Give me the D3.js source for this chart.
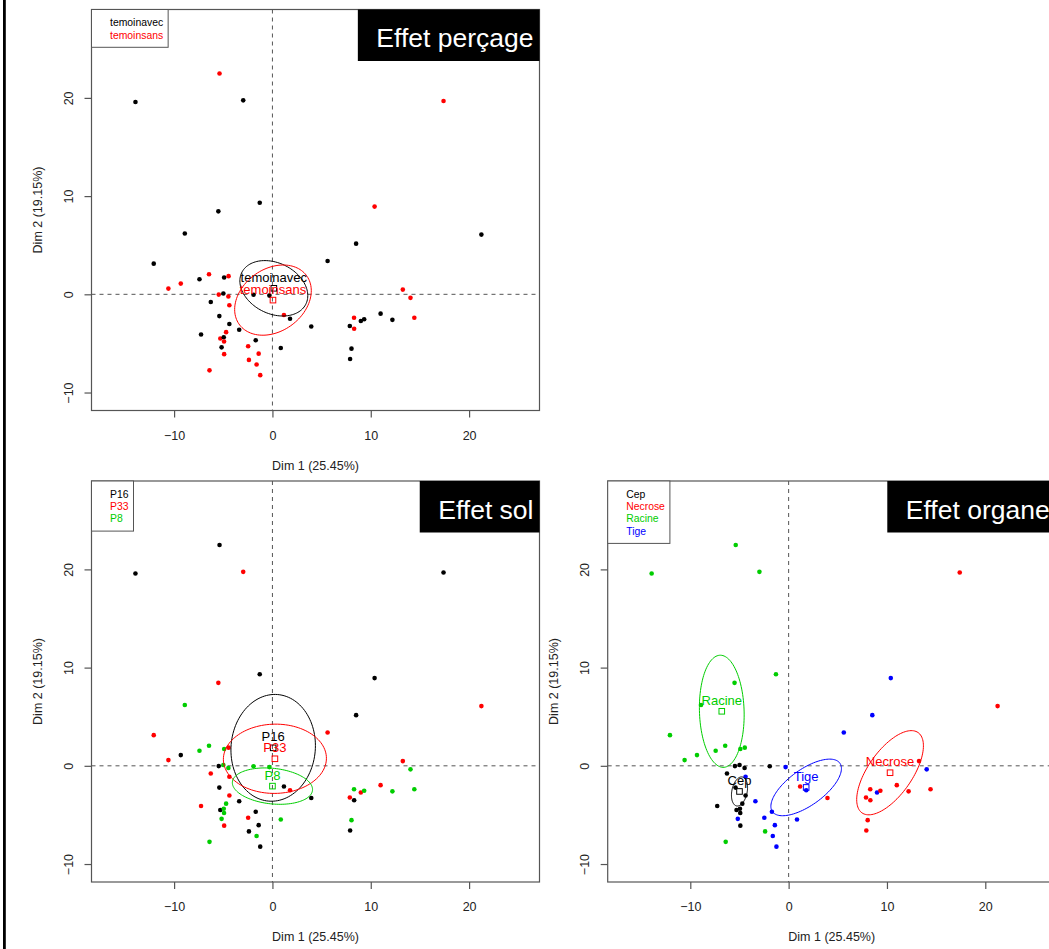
<!DOCTYPE html>
<html><head><meta charset="utf-8">
<script src="https://cdn.jsdelivr.net/npm/d3@7"></script>
<style>
body{margin:0;background:#fff}
svg{display:block}
text{font-family:"Liberation Sans",Arial,Helvetica,sans-serif}
</style>
</head><body>
<svg id="c" width="1049" height="949"></svg>
<script>
// ---------- DATA ----------
const dim1 = [
  -5.38,-13.93,-2.97,-1.29,-5.50,-8.91,-12.07,-7.42,-6.45,-4.91,-4.46,-9.32,-10.58,-2.39,-6.40,
  -5.46,-4.99,-4.48,-1.92,-6.27,-5.40,-4.38,-7.26,-5.30,-4.95,-4.92,-4.71,-4.91,
  10.39,8.51,5.61,-0.31,-4.38,14.04,1.79,8.99,-3.38,-1.70,-5.17,-2.47,0.85,-1.40,-1.61,-1.24,
  17.40,21.25,13.26,1.17,3.95,7.87,8.30,8.31,9.33,11.00,12.20,14.43,8.04,7.90
];
const dim2 = [
  22.49,19.58,19.75,9.32,8.45,6.19,3.12,1.53,2.04,1.71,1.85,1.09,0.58,-6.68,-7.74,
  -0.03,0.08,-0.22,-0.04,-0.78,-2.22,-3.03,-4.09,-4.50,-4.37,-4.80,-3.85,-6.09,
  8.93,5.16,3.39,-0.13,-1.12,-0.36,-2.49,-2.72,-3.61,-4.68,-5.40,-5.29,-5.47,-6.04,-7.15,-8.23,
  19.69,6.08,0.48,-2.11,-3.28,-3.22,-2.38,-3.51,-2.54,-1.97,-2.60,-2.38,-5.53,-6.58
];
const A = "temoinavec", S = "temoinsans";
const percage = [
  S,A,A,A,A,A,A,A,S,A,S,S,S,S,S,
  S,A,S,A,A,A,A,A,S,A,S,S,S,
  S,A,A,A,S,S,A,A,A,A,A,S,A,S,S,S,
  S,A,S,S,A,A,S,S,A,A,A,S,A,A
];
const sol = [
  "P16","P16","P33","P16","P33","P8","P33","P8","P8","P8","P33","P16","P33","P16","P8",
  "P16","P8","P8","P8","P33","P16","P33","P33","P16","P8","P8","P8","P33",
  "P16","P16","P33","P8","P33","P8","P33","P33","P16","P16","P8","P33","P8","P16","P8","P16",
  "P16","P33","P33","P16","P16","P33","P8","P16","P8","P33","P8","P8","P8","P16"
];
const organe = [
  ...Array(15).fill("Racine"),
  ...Array(13).fill("Cep"),
  ...Array(16).fill("Tige"),
  ...Array(14).fill("Necrose")
];
const percageLevels = ["temoinavec","temoinsans"];
const solLevels = ["P16","P33","P8"];
const organeLevels = ["Cep","Necrose","Racine","Tige"];
const palette = ["#000000","#FF0000","#00CD00","#0000FF"];
const panelTitles = ["Effet perçage","Effet sol","Effet organe"];
const xTicks = [-10,0,10,20];
const yTicks = [-10,0,10,20];
const xLabel = "Dim 1 (25.45%)";
const yLabel = "Dim 2 (19.15%)";
const xLimits = [-18.4, 27.16];
const yLimits = [-11.83, 29.0];

// ---------- LAYOUT ----------
const W = 448, H = 401;
const panels = [
  {factor: percage, levels: percageLevels, title: panelTitles[0], left: 91.5, top: 9.5},
  {factor: sol, levels: solLevels, title: panelTitles[1], left: 91.5, top: 481},
  {factor: organe, levels: organeLevels, title: panelTitles[2], left: 607.7, top: 481}
];
const x = d3.scaleLinear().domain(xLimits).range([0, W]);
const y = d3.scaleLinear().domain(yLimits).range([H, 0]);
const svg = d3.select("#c");
svg.append("rect").attr("width",1049).attr("height",949).attr("fill","#fff");
svg.append("rect").attr("x",3).attr("y",0).attr("width",2.8).attr("height",949).attr("fill","#000");

const tConf = Math.sqrt(-2*Math.log(0.05)); // sqrt(qchisq(0.95, 2))

function ellipse(px, py){
  const n = px.length;
  const mx = d3.mean(px), my = d3.mean(py);
  let sxx=0, syy=0, sxy=0;
  for(let i=0;i<n;i++){ const dx=px[i]-mx, dy=py[i]-my; sxx+=dx*dx; syy+=dy*dy; sxy+=dx*dy; }
  sxx/=(n-1)*n; syy/=(n-1)*n; sxy/=(n-1)*n;
  const l11=Math.sqrt(sxx), l21=sxy/l11, l22=Math.sqrt(Math.max(syy-l21*l21,0));
  const pts=[];
  for(let k=0;k<120;k++){
    const a=2*Math.PI*k/120, u=Math.cos(a), v=Math.sin(a);
    pts.push([mx + tConf*l11*u, my + tConf*(l21*u + l22*v)]);
  }
  return {mx, my, pts};
}

const line = d3.line().x(d=>x(d[0])).y(d=>y(d[1])).curve(d3.curveLinearClosed);
const axisCol = "#555";

panels.forEach(p => {
  const g = svg.append("g").attr("transform", `translate(${p.left},${p.top})`);
  // reference dashed lines
  g.append("line").attr("x1",0).attr("x2",W).attr("y1",y(0)).attr("y2",y(0))
    .attr("stroke","#555").attr("stroke-width",1).attr("stroke-dasharray","4,4");
  g.append("line").attr("x1",x(0)).attr("x2",x(0)).attr("y1",0).attr("y2",H)
    .attr("stroke","#555").attr("stroke-width",1).attr("stroke-dasharray","4,4");

  // points
  const idx = d3.range(dim1.length);
  g.selectAll("circle.pt").data(idx).join("circle").attr("class","pt")
    .attr("cx", i => x(dim1[i])).attr("cy", i => y(dim2[i])).attr("r", 2.3)
    .attr("fill", i => palette[p.levels.indexOf(p.factor[i])]);

  // ellipses, centres, labels
  p.levels.forEach((lev, li) => {
    const sel = idx.filter(i => p.factor[i] === lev);
    const e = ellipse(sel.map(i=>dim1[i]), sel.map(i=>dim2[i]));
    const col = palette[li];
    g.append("path").attr("d", line(e.pts)).attr("fill","none").attr("stroke",col).attr("stroke-width",1);
    g.append("rect").attr("x", x(e.mx)-2.8).attr("y", y(e.my)-2.8).attr("width",5.6).attr("height",5.6)
      .attr("fill","none").attr("stroke",col).attr("stroke-width",1);
    g.append("text").attr("x", x(e.mx)).attr("y", y(e.my)-6.5).attr("text-anchor","middle")
      .attr("font-size",13).attr("fill",col).text(lev);
  });

  // box
  g.append("rect").attr("width",W).attr("height",H).attr("fill","none").attr("stroke",axisCol).attr("stroke-width",1.2);

  // axes
  const ax = g.append("g").attr("transform",`translate(0,${H})`)
    .call(d3.axisBottom(x).tickValues(xTicks).tickSize(7).tickPadding(13.5).tickFormat(d3.format("d")));
  ax.select(".domain").remove();
  ax.selectAll("line").attr("stroke",axisCol).attr("stroke-width",1.2);
  ax.selectAll("text").attr("font-size",12.5).attr("fill","#222").style("font-family",'"Liberation Sans",Arial,sans-serif');
  const ay = g.append("g").call(d3.axisLeft(y).tickValues(yTicks).tickSize(7).tickFormat(d3.format("d")));
  ay.select(".domain").remove();
  ay.selectAll("line").attr("stroke",axisCol).attr("stroke-width",1.2);
  ay.selectAll("text").attr("x",null).attr("dy","0.36em").attr("text-anchor","middle")
    .attr("transform","translate(-23.5,0) rotate(-90)")
    .attr("font-size",12.5).attr("fill","#222").style("font-family",'"Liberation Sans",Arial,sans-serif');

  // axis titles
  g.append("text").attr("x",W/2).attr("y",H+55).attr("dy","0.32em").attr("text-anchor","middle")
    .attr("font-size",12.5).attr("fill","#222").text(xLabel);
  g.append("text").attr("transform",`translate(-53.3,${H/2}) rotate(-90)`).attr("dy","0.32em")
    .attr("text-anchor","middle").attr("font-size",12.5).attr("fill","#222").text(yLabel);

  // legend (top-left)
  const lg = g.append("g");
  const lrect = lg.append("rect").attr("x",0).attr("y",0).attr("fill","#fff").attr("stroke",axisCol).attr("stroke-width",1);
  let maxW = 0;
  p.levels.forEach((lev, li) => {
    const t = lg.append("text").attr("x",18.5).attr("y",13 + li*12.3).attr("dy","0.36em")
      .attr("font-size",10.4).attr("fill",palette[li]).text(lev);
    maxW = Math.max(maxW, t.node().getComputedTextLength());
  });
  lrect.attr("width", 18.5 + maxW + 5).attr("height", 25.5 + (p.levels.length-1)*12.3);

  // title box (top-right)
  const tg = g.append("g");
  const trect = tg.append("rect").attr("fill","#000");
  const tt = tg.append("text").attr("font-size",26.5).attr("fill","#fff").text(p.title);
  const tw = tt.node().getComputedTextLength();
  const bw = 18.5 + tw + 6;
  trect.attr("x", W-bw).attr("y",0).attr("width",bw).attr("height",51.5);
  tt.attr("x", W-bw+18.5).attr("y",37.5);
});
</script>
</body></html>
